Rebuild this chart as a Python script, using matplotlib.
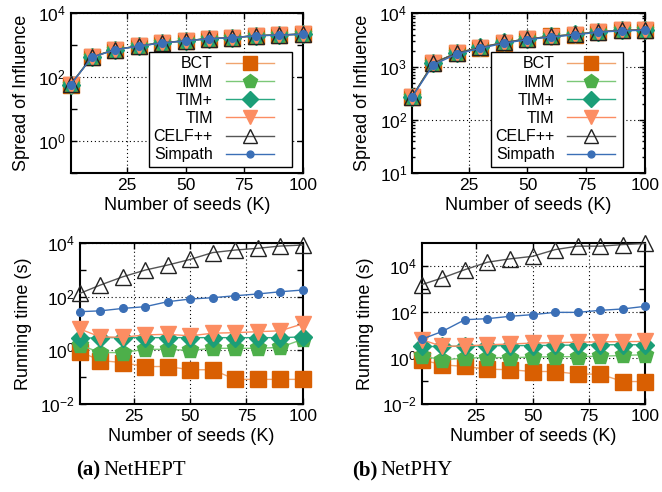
import matplotlib
matplotlib.use("Agg")
import matplotlib.pyplot as plt
from matplotlib.ticker import FixedLocator, LogLocator, NullFormatter

plt.rcParams['font.family'] = ['Liberation Sans', 'DejaVu Sans']

# number of seeds
seeds = [1, 10, 20, 30, 40, 50, 60, 70, 80, 90, 100]

algos = ["BCT", "IMM", "TIM+", "TIM", "CELF++", "Simpath"]

# spread of influence, NetHEPT
spread_hept = {
    "BCT":     [59, 430, 730, 950, 1200, 1380, 1620, 1730, 2000, 2100, 2230],
    "IMM":     [59, 430, 730, 950, 1200, 1380, 1620, 1730, 2000, 2100, 2230],
    "TIM+":    [59, 430, 730, 950, 1200, 1380, 1620, 1730, 2000, 2100, 2230],
    "TIM":     [58, 425, 725, 945, 1190, 1370, 1610, 1720, 1990, 2090, 2220],
    "CELF++":  [60, 432, 735, 955, 1205, 1385, 1625, 1735, 2005, 2110, 2240],
    "Simpath": [58, 420, 720, 940, 1180, 1360, 1600, 1710, 1980, 2080, 2210],
}

# spread of influence, NetPHY
spread_phy = {
    "BCT":     [270, 1160, 1790, 2280, 2830, 3290, 3680, 4000, 4500, 4770, 4900],
    "IMM":     [270, 1160, 1790, 2280, 2830, 3290, 3680, 4000, 4500, 4770, 4900],
    "TIM+":    [270, 1170, 1800, 2290, 2840, 3300, 3690, 4010, 4510, 4780, 4910],
    "TIM":     [268, 1150, 1780, 2270, 2820, 3280, 3670, 3990, 4490, 4760, 4890],
    "CELF++":  [272, 1170, 1800, 2290, 2840, 3300, 3690, 4010, 4510, 4780, 4910],
    "Simpath": [265, 1080, 1720, 2200, 2750, 3200, 3600, 3920, 4420, 4680, 4820],
}

# running time (s), NetHEPT
time_hept = {
    "BCT":     [0.9, 0.42, 0.35, 0.25, 0.25, 0.19, 0.19, 0.083, 0.083, 0.083, 0.083],
    "IMM":     [1.6, 0.83, 0.83, 1.1, 1.1, 1.0, 1.2, 1.2, 1.2, 1.3, 2.6],
    "TIM+":    [2.8, 3.0, 3.0, 3.0, 3.0, 3.0, 3.0, 3.0, 3.0, 3.0, 3.2],
    "TIM":     [6.3, 3.2, 3.1, 3.8, 4.0, 3.5, 4.4, 4.6, 5.0, 5.4, 9.8],
    "CELF++":  [135, 275, 560, 1000, 1540, 2500, 4500, 5600, 6500, 7900, 8600],
    "Simpath": [28, 30, 37, 43, 66, 83, 93, 110, 128, 155, 180],
}

# running time (s), NetPHY
time_phy = {
    "BCT":     [0.83, 0.51, 0.43, 0.33, 0.31, 0.26, 0.26, 0.20, 0.20, 0.095, 0.095],
    "IMM":     [1.25, 0.83, 1.0, 1.05, 1.05, 1.1, 1.15, 1.15, 1.2, 1.3, 1.4],
    "TIM+":    [3.2, 3.2, 3.3, 3.4, 3.5, 3.5, 3.6, 3.7, 3.8, 3.8, 3.8],
    "TIM":     [6.3, 3.2, 3.4, 3.8, 4.1, 4.5, 4.7, 4.9, 5.1, 5.2, 5.3],
    "CELF++":  [1600, 3100, 7100, 15000, 21000, 27000, 53000, 75000, 75000, 88000, 98000],
    "Simpath": [6.7, 14.5, 47, 52, 66, 78, 98, 98, 120, 138, 180],
}

# line color, marker, marker face, marker edge, marker size
styles = {
    "BCT":     ("#f0a46e", "s", "#d95f02", "#d95f02", 11),
    "IMM":     ("#7cc878", "p", "#4daf4a", "#4daf4a", 12),
    "TIM+":    ("#2aa882", "D", "#1b9e77", "#1b9e77", 9),
    "TIM":     ("#fc8d62", "v", "#fc8d62", "#fc8d62", 11),
    "CELF++":  ("#555555", "^", "none", "#222222", 11),
    "Simpath": ("#3b6fb6", "o", "#3b6fb6", "#3b6fb6", 5.5),
}


def draw(ax, data):
    for i, a in enumerate(algos):
        lc, m, mfc, mec, ms = styles[a]
        ax.plot(seeds, data[a], color=lc, lw=1.0, marker=m, mfc=mfc, mec=mec,
                ms=ms, mew=1.0, label=a, zorder=3 + i, clip_on=False)


def setup(ax, ylim, major, minor=None):
    ax.set_yscale("log")
    ax.set_xlim(1, 100)
    ax.set_ylim(*ylim)
    ax.xaxis.set_major_locator(FixedLocator([25, 50, 75, 100]))
    ax.yaxis.set_major_locator(FixedLocator(major))
    if minor is None:
        ax.yaxis.set_minor_locator(LogLocator(base=10, subs=range(2, 10)))
    else:
        ax.yaxis.set_minor_locator(FixedLocator(minor))
    ax.yaxis.set_minor_formatter(NullFormatter())
    ax.tick_params(which="both", direction="in", top=True, right=True,
                   labelsize=12.5, width=1.0)
    ax.tick_params(which="major", length=4)
    ax.tick_params(which="minor", length=4 if minor is not None else 2.5)
    ax.grid(True, which="major", color="black", ls=(0, (1, 2.5)), lw=0.8)
    ax.set_axisbelow(True)
    for s in ax.spines.values():
        s.set_linewidth(1.5)
    ax.set_xlabel("Number of seeds (K)", fontsize=13, labelpad=3)


fig = plt.figure(figsize=(6.62, 4.92), dpi=100)

ax1 = fig.add_axes([0.1068, 0.6478, 0.3505, 0.3252])
ax2 = fig.add_axes([0.6224, 0.6478, 0.3524, 0.3252])
ax3 = fig.add_axes([0.1208, 0.1789, 0.3364, 0.3266])
ax4 = fig.add_axes([0.6375, 0.1789, 0.3373, 0.3266])

draw(ax1, spread_hept)
setup(ax1, (0.1, 1e4), [1e0, 1e2, 1e4], [1e-1, 1e1, 1e3])
ax1.set_ylabel("Spread of Influence", fontsize=13, labelpad=6)

draw(ax2, spread_phy)
setup(ax2, (10, 1e4), [1e1, 1e2, 1e3, 1e4])
ax2.set_ylabel("Spread of Influence", fontsize=13, labelpad=6)

draw(ax3, time_hept)
setup(ax3, (1e-2, 1e4), [1e-2, 1e0, 1e2, 1e4], [1e-1, 1e1, 1e3])
ax3.set_ylabel("Running time (s)", fontsize=13, labelpad=6)

draw(ax4, time_phy)
setup(ax4, (1e-2, 1e5), [1e-2, 1e0, 1e2, 1e4], [1e-1, 1e1, 1e3])
ax4.set_ylabel("Running time (s)", fontsize=13, labelpad=6)

# legends in top panels, gnuplot style (text right, key on the right)
for ax, w in [(ax1, 0.617), (ax2, 0.567)]:
    leg = ax.legend(loc="upper left", bbox_to_anchor=(0.337, 0.76, w, 0.0),
                    mode="expand", markerfirst=False, fontsize=11.5,
                    handlelength=3.0, labelspacing=0.2, borderpad=0.3,
                    borderaxespad=0.0, fancybox=False, framealpha=1.0,
                    edgecolor="black", handletextpad=0.8, markerscale=0.9)
    leg.get_frame().set_linewidth(1.0)
    leg.set_zorder(20)

# sub captions
serif = ["Liberation Serif", "DejaVu Serif"]
fig.text(76 / 662, 1 - 475 / 492, "(a)", fontsize=15, fontweight="bold",
         family=serif, va="baseline")
fig.text(103 / 662, 1 - 475 / 492, "NetHEPT", fontsize=15,
         family=serif, va="baseline")
fig.text(352 / 662, 1 - 475 / 492, "(b)", fontsize=15, fontweight="bold",
         family=serif, va="baseline")
fig.text(380 / 662, 1 - 475 / 492, "NetPHY", fontsize=15,
         family=serif, va="baseline")

plt.savefig("out.png", dpi=100)
